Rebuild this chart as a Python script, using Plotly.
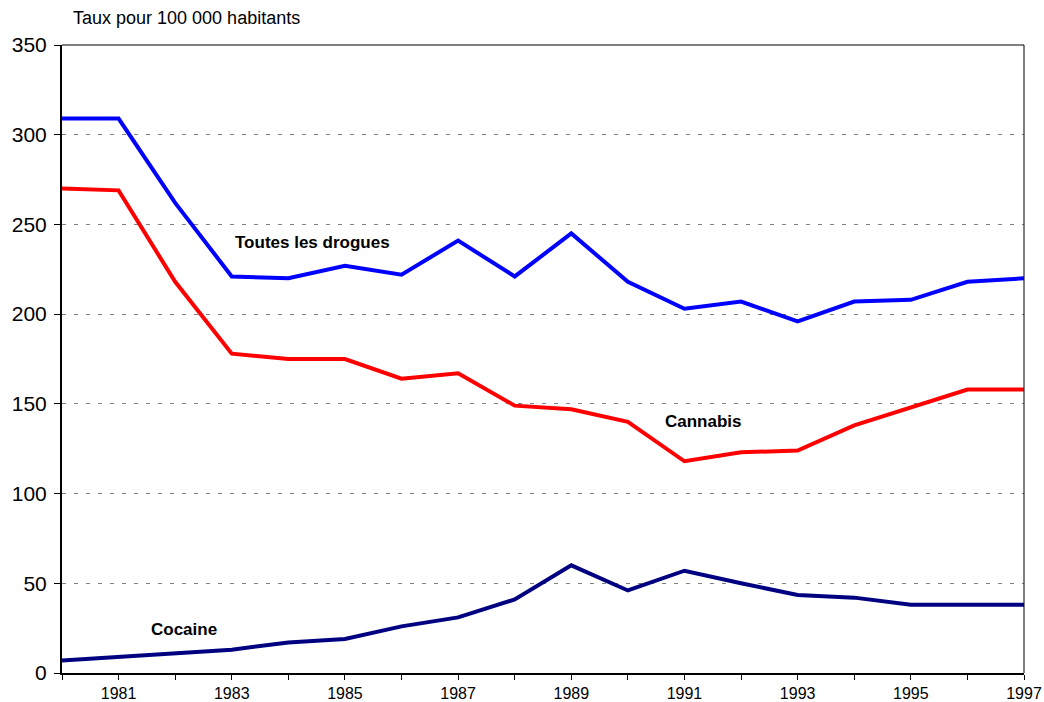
import plotly.graph_objects as go

years = list(range(1980, 1998))
toutes = [309, 309, 262, 221, 220, 227, 222, 241, 221, 245, 218, 203, 207, 196, 207, 208, 218, 220]
cannabis = [270, 269, 218, 178, 175, 175, 164, 167, 149, 147, 140, 118, 123, 124, 138, 148, 158, 158]
cocaine = [7, 9, 11, 13, 17, 19, 26, 31, 41, 60, 46, 57, 50, 43.5, 42, 38, 38, 38]

x_ticktext = [str(y) if y % 2 == 1 else "" for y in years]
y_ticks = [0, 50, 100, 150, 200, 250, 300, 350]

FONT = "Liberation Sans, Arial, sans-serif"

fig = go.Figure()
fig.add_trace(go.Scatter(x=years, y=toutes, mode="lines", name="Toutes les drogues",
                         line=dict(color="#0000FF", width=4)))
fig.add_trace(go.Scatter(x=years, y=cannabis, mode="lines", name="Cannabis",
                         line=dict(color="#FF0000", width=4)))
fig.add_trace(go.Scatter(x=years, y=cocaine, mode="lines", name="Cocaine",
                         line=dict(color="#000080", width=4)))

label_font = dict(family=FONT, size=17, color="black")
for txt, x, y in [("Toutes les drogues", 1984.42, 240), ("Cannabis", 1991.33, 140), ("Cocaine", 1982.16, 24.5)]:
    fig.add_annotation(x=x, y=y, text="<b>" + txt + "</b>", showarrow=False, font=label_font)

fig.add_annotation(xref="paper", yref="paper", x=0.0095, y=1.0, yshift=27, xanchor="left", yanchor="middle",
                   text="Taux pour 100 000 habitants", showarrow=False,
                   font=dict(family=FONT, size=18, color="black"))

# thin frame on the top and right sides
fig.add_shape(type="line", xref="paper", yref="paper", x0=0, y0=1, x1=1, y1=1, line=dict(color="black", width=1))
fig.add_shape(type="line", xref="paper", yref="paper", x0=1, y0=0, x1=1, y1=1, line=dict(color="black", width=1))

fig.update_layout(
    width=1044, height=702,
    margin=dict(l=62, r=20, t=45, b=29, autoexpand=False),
    paper_bgcolor="white", plot_bgcolor="white",
    showlegend=False,
    font=dict(family=FONT, color="black"),
    xaxis=dict(range=[1980, 1997], tickvals=years, ticktext=x_ticktext, ticks="outside", ticklen=5,
               tickwidth=1, tickcolor="black", showgrid=False, showline=True, linecolor="black",
               linewidth=2, zeroline=False, tickfont=dict(size=16), ticklabelstandoff=0,
               automargin=False),
    yaxis=dict(range=[0, 350], tickvals=y_ticks, ticks="outside", ticklen=6, tickwidth=1,
               tickcolor="black", showline=True, linecolor="black", linewidth=2, zeroline=False,
               showgrid=True, gridcolor="#808080", gridwidth=1, griddash="4px,8px",
               tickfont=dict(size=21), ticklabelstandoff=3, automargin=False),
)

fig.write_html("out.html")
